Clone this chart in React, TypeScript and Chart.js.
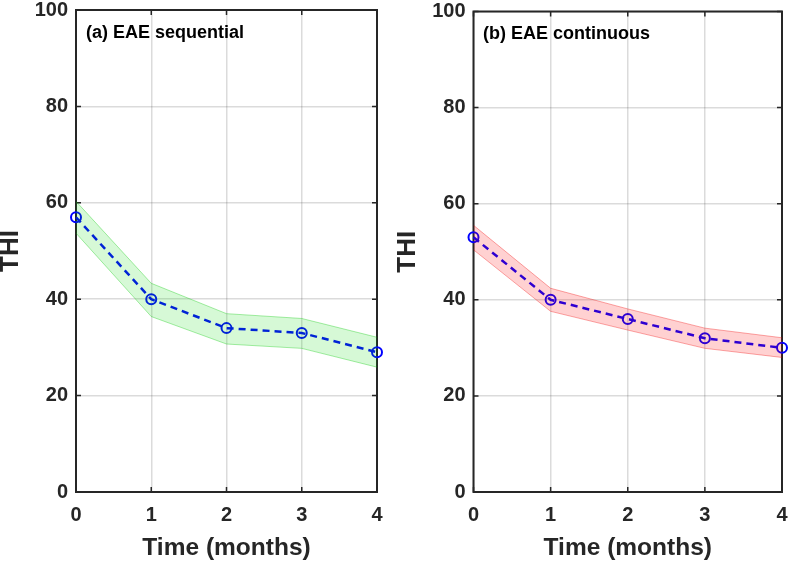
import React, { useEffect, useRef } from "react";
import { Chart, registerables } from "chart.js";

Chart.register(...registerables);

const months = [0, 1, 2, 3, 4];
const seqMean = [57, 40, 34, 33, 29];
const seqUpper = [60.3, 43.3, 37, 36, 32.1];
const seqLower = [53.7, 36.4, 30.7, 29.8, 25.9];
const contMean = [53, 40, 36, 32, 30];
const contUpper = [55.5, 42.4, 38.1, 34.1, 32.1];
const contLower = [50.4, 37.6, 33.7, 29.9, 28.0];
const xTicks = [0, 1, 2, 3, 4];
const yTicks = [0, 20, 40, 60, 80, 100];

const FONT = "'Liberation Sans', Arial, Helvetica, sans-serif";
const AXIS_COLOR = "#262626";

const boxPlugin = {
  id: "matlabBox",
  beforeDatasetsDraw(chart: any) {
    const { ctx, chartArea, scales } = chart;
    const { left, right, top, bottom } = chartArea;
    ctx.save();
    ctx.strokeStyle = AXIS_COLOR;
    ctx.lineWidth = 2;
    ctx.strokeRect(left, top, right - left, bottom - top);
    ctx.lineWidth = 1.5;
    const len = 5;
    ctx.beginPath();
    xTicks.forEach((v) => {
      const x = scales.x.getPixelForValue(v);
      ctx.moveTo(x, bottom);
      ctx.lineTo(x, bottom - len);
      ctx.moveTo(x, top);
      ctx.lineTo(x, top + len);
    });
    yTicks.forEach((v) => {
      const y = scales.y.getPixelForValue(v);
      ctx.moveTo(left, y);
      ctx.lineTo(left + len, y);
      ctx.moveTo(right, y);
      ctx.lineTo(right - len, y);
    });
    ctx.stroke();
    ctx.restore();
  },
};

type PanelCfg = {
  mean: number[];
  upper: number[];
  lower: number[];
  fill: string;
  edge: string;
  padRight: number;
  padTop: number;
  yWidth: number;
  yTitlePad: number;
};

function makeChart(canvas: HTMLCanvasElement, cfg: PanelCfg) {
  const pts = (arr: number[]) => months.map((m, i) => ({ x: m, y: arr[i] }));
  return new Chart(canvas, {
    type: "line",
    data: {
      datasets: [
        {
          data: pts(cfg.upper),
          borderColor: cfg.edge,
          borderWidth: 1,
          pointRadius: 0,
          fill: false,
          tension: 0,
        },
        {
          data: pts(cfg.lower),
          borderColor: cfg.edge,
          borderWidth: 1,
          backgroundColor: cfg.fill,
          pointRadius: 0,
          fill: "-1",
          tension: 0,
        },
        {
          data: pts(cfg.mean),
          borderColor: "#0000ff",
          borderWidth: 2.5,
          borderDash: [7, 5],
          pointRadius: 5,
          pointBorderWidth: 2,
          pointBorderColor: "#0000ff",
          pointBackgroundColor: "rgba(0,0,0,0)",
          fill: false,
          tension: 0,
          clip: false,
        } as any,
      ],
    },
    options: {
      animation: false,
      responsive: false,
      events: [],
      layout: { padding: { left: 0, right: cfg.padRight, top: cfg.padTop, bottom: 0 } },
      plugins: {
        legend: { display: false },
        tooltip: { enabled: false },
        title: { display: false },
      },
      scales: {
        x: {
          type: "linear",
          min: 0,
          max: 4,
          afterBuildTicks: (s: any) => {
            s.ticks = xTicks.map((v) => ({ value: v }));
          },
          ticks: {
            font: { family: FONT, size: 20, weight: "bold" },
            color: AXIS_COLOR,
            padding: 11,
            maxRotation: 0,
          },
          grid: { color: "rgba(0,0,0,0.14)", lineWidth: 1.5, drawTicks: false },
          border: { display: false },
          title: {
            display: true,
            text: "Time (months)",
            font: { family: FONT, size: 24.5, weight: "bold", lineHeight: 1 },
            color: AXIS_COLOR,
            padding: { top: 0, bottom: 4 },
          },
          afterFit: (s: any) => {
            s.height = 72;
            s.paddingLeft = 0;
            s.paddingRight = 0;
          },
        },
        y: {
          type: "linear",
          min: 0,
          max: 100,
          afterBuildTicks: (s: any) => {
            s.ticks = yTicks.map((v) => ({ value: v }));
          },
          ticks: {
            font: { family: FONT, size: 20, weight: "bold" },
            color: AXIS_COLOR,
            padding: 8,
          },
          grid: { color: "rgba(0,0,0,0.14)", lineWidth: 1.5, drawTicks: false },
          border: { display: false },
          title: {
            display: true,
            text: "THI",
            font: { family: FONT, size: 26, weight: "bold", lineHeight: 0.85 },
            color: AXIS_COLOR,
            padding: { top: cfg.yTitlePad, bottom: 0 },
          },
          afterFit: (s: any) => {
            s.width = cfg.yWidth;
            s.paddingTop = 0;
            s.paddingBottom = 0;
          },
        },
      },
    } as any,
    plugins: [boxPlugin],
  });
}

export default function App() {
  const refA = useRef<HTMLCanvasElement>(null);
  const refB = useRef<HTMLCanvasElement>(null);

  useEffect(() => {
    const a = makeChart(refA.current!, {
      mean: seqMean,
      upper: seqUpper,
      lower: seqLower,
      fill: "rgba(0,220,0,0.16)",
      edge: "rgba(0,200,0,0.35)",
      padRight: 13,
      padTop: 10,
      yWidth: 76,
      yTitlePad: 0,
    });
    const b = makeChart(refB.current!, {
      mean: contMean,
      upper: contUpper,
      lower: contLower,
      fill: "rgba(255,0,0,0.18)",
      edge: "rgba(240,0,0,0.35)",
      padRight: 8,
      padTop: 11.5,
      yWidth: 83.5,
      yTitlePad: 7,
    });
    return () => {
      a.destroy();
      b.destroy();
    };
  }, []);

  const panelTitle: React.CSSProperties = {
    position: "absolute",
    fontFamily: FONT,
    fontWeight: "bold",
    fontSize: 18,
    lineHeight: "18px",
    color: "#000",
    whiteSpace: "nowrap",
  };

  return (
    <div
      style={{
        position: "absolute",
        left: 0,
        top: 0,
        width: 790,
        height: 564,
        background: "#fff",
        overflow: "hidden",
      }}
    >
      <canvas
        ref={refA}
        width={390}
        height={564}
        style={{ position: "absolute", left: 0, top: 0, width: 390, height: 564 }}
      />
      <canvas
        ref={refB}
        width={400}
        height={564}
        style={{ position: "absolute", left: 390, top: 0, width: 400, height: 564 }}
      />
      <div style={{ ...panelTitle, left: 86, top: 22.5 }}>(a) EAE sequential</div>
      <div style={{ ...panelTitle, left: 483, top: 24 }}>(b) EAE continuous</div>
    </div>
  );
}
